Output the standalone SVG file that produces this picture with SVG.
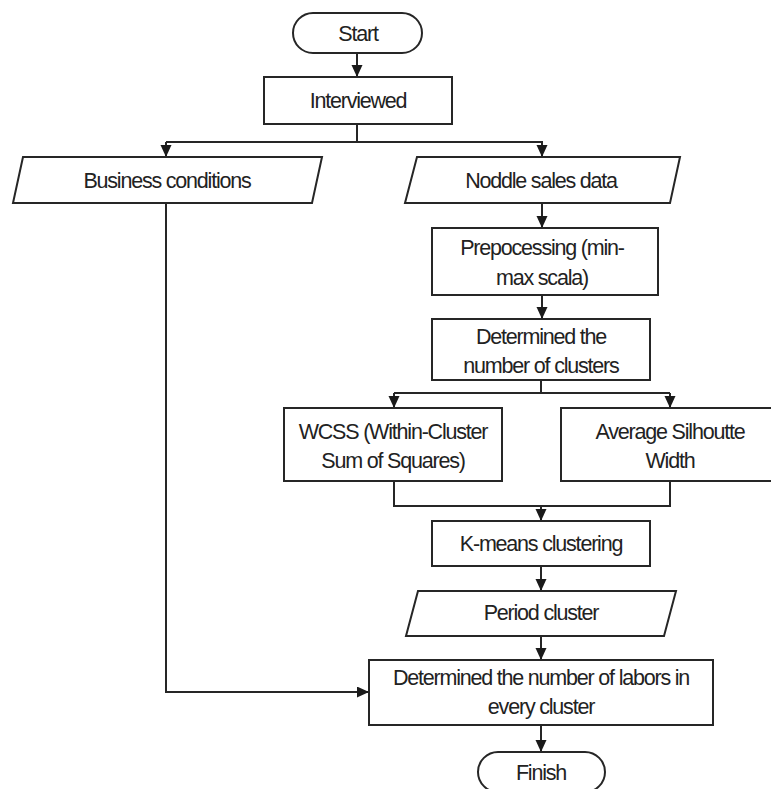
<svg xmlns="http://www.w3.org/2000/svg" width="771" height="789" viewBox="0 0 771 789">
<style>
.s{fill:#fff;stroke:#262626;stroke-width:2}
.c{fill:none;stroke:#262626;stroke-width:2}
text{font-family:"Liberation Sans",Arial,sans-serif;font-size:21.5px;letter-spacing:-1.2px;fill:#222;text-anchor:middle;dominant-baseline:central}
</style>
<defs>
<marker id="a" markerWidth="12" markerHeight="12" refX="11" refY="5.5" orient="auto" markerUnits="userSpaceOnUse">
<path d="M0,0 L12,5.5 L0,11 z" fill="#1a1a1a"/>
</marker>
</defs>
<rect width="771" height="789" fill="#fff"/>
<g id="connectors">
<path class="c" d="M357,53 V76" marker-end="url(#a)"/>
<path class="c" d="M357,124 V142"/>
<path class="c" d="M166,142 H542 V156" marker-end="url(#a)"/>
<path class="c" d="M166,142 V156" marker-end="url(#a)"/>
<path class="c" d="M542,203 V227" marker-end="url(#a)"/>
<path class="c" d="M542,295 V318" marker-end="url(#a)"/>
<path class="c" d="M541,380 V393"/>
<path class="c" d="M394,393 H670"/>
<path class="c" d="M394,393 V407" marker-end="url(#a)"/>
<path class="c" d="M670,393 V407" marker-end="url(#a)"/>
<path class="c" d="M394,481 V506 H670 V481"/>
<path class="c" d="M541,506 V520" marker-end="url(#a)"/>
<path class="c" d="M541,566 V590" marker-end="url(#a)"/>
<path class="c" d="M541,636 V659" marker-end="url(#a)"/>
<path class="c" d="M166,203 V692 H368" marker-end="url(#a)"/>
<path class="c" d="M541,725 V751" marker-end="url(#a)"/>
</g>
<g id="start">
<rect class="s" x="293" y="13" width="129" height="40" rx="20"/>
<text x="358" y="34">Start</text>
</g>
<g id="interviewed">
<rect class="s" x="264" y="77" width="188" height="47"/>
<text x="358" y="101">Interviewed</text>
</g>
<g id="business">
<polygon class="s" points="23,157 322,157 312,203 13,203"/>
<text x="167" y="181">Business conditions</text>
</g>
<g id="noddle">
<polygon class="s" points="417,157 680,157 670,203 405,203"/>
<text x="541" y="181">Noddle sales data</text>
</g>
<g id="prepocessing">
<rect class="s" x="432" y="228" width="226" height="67"/>
<text x="542" y="248">Prepocessing (min-</text>
<text x="542" y="278">max scala)</text>
</g>
<g id="determined-clusters">
<rect class="s" x="432" y="319" width="218" height="61"/>
<text x="541" y="337">Determined the</text>
<text x="541" y="366">number of clusters</text>
</g>
<g id="wcss">
<rect class="s" x="284" y="408" width="218" height="73"/>
<text x="393" y="432">WCSS (Within-Cluster</text>
<text x="393" y="461">Sum of Squares)</text>
</g>
<g id="silhouette">
<rect class="s" x="561" y="408" width="220" height="73"/>
<text x="670" y="432">Average Silhoutte</text>
<text x="670" y="461">Width</text>
</g>
<g id="kmeans">
<rect class="s" x="432" y="521" width="218" height="45"/>
<text x="541" y="544">K-means clustering</text>
</g>
<g id="period">
<polygon class="s" points="418,591 676,591 664,636 406,636"/>
<text x="541" y="613">Period cluster</text>
</g>
<g id="determined-labors">
<rect class="s" x="369" y="660" width="344" height="65"/>
<text x="541" y="678">Determined the number of labors in</text>
<text x="541" y="707">every cluster</text>
</g>
<g id="finish">
<rect class="s" x="478" y="752" width="127" height="40" rx="20"/>
<text x="541" y="773">Finish</text>
</g>
</svg>
